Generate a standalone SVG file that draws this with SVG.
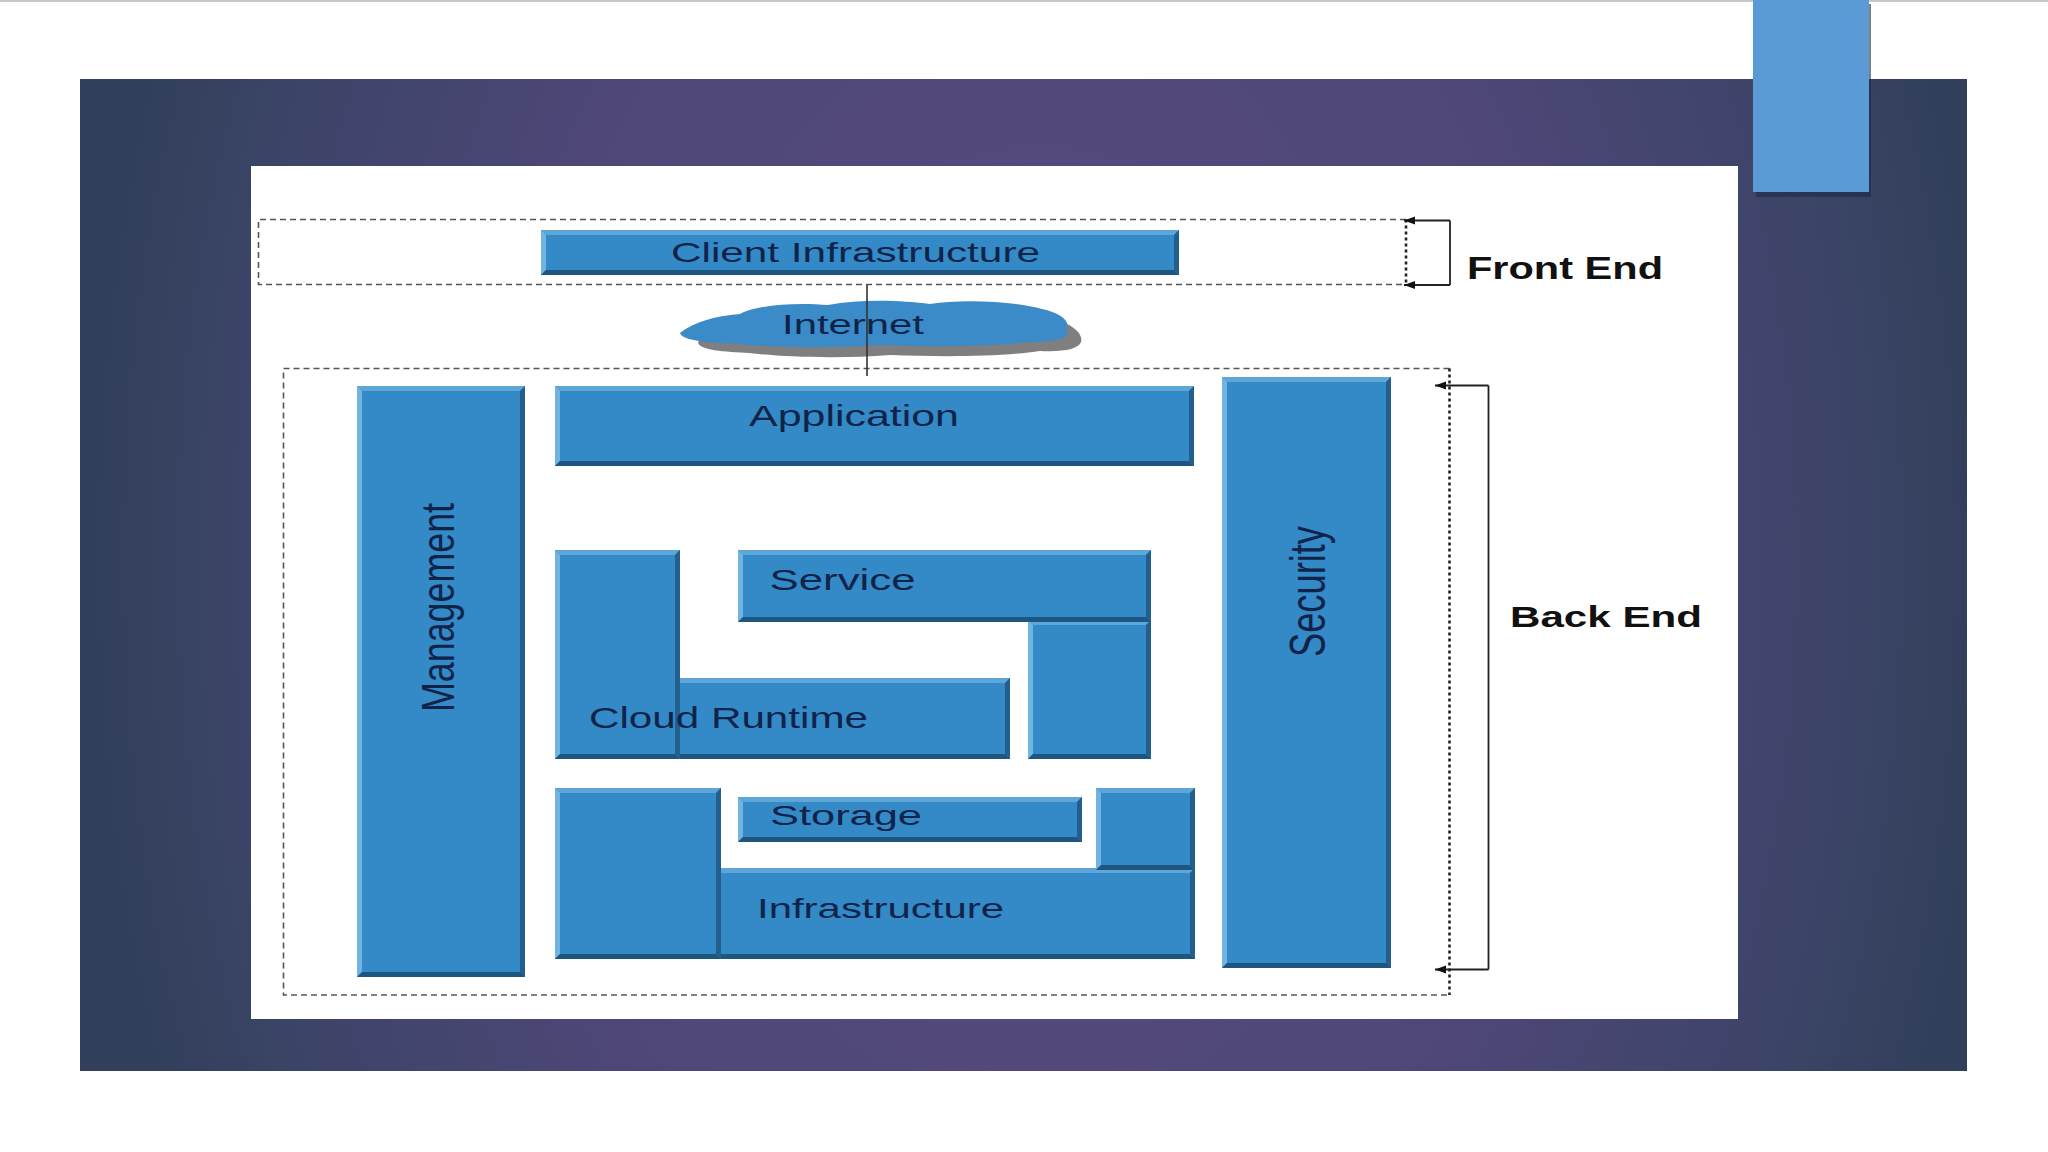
<svg xmlns="http://www.w3.org/2000/svg" width="2048" height="1152" viewBox="0 0 2048 1152">
<defs>
<radialGradient id="bg" gradientUnits="userSpaceOnUse" cx="1040" cy="560" r="960" gradientTransform="translate(1040,560) scale(1,1.5) translate(-1040,-560)">
<stop offset="0" stop-color="#5a4b80"/>
<stop offset="0.55" stop-color="#4e4778"/>
<stop offset="0.85" stop-color="#3b4466"/>
<stop offset="1" stop-color="#313f5a"/>
</radialGradient>
<marker id="arr" markerWidth="12" markerHeight="10" refX="11" refY="5" orient="auto" markerUnits="userSpaceOnUse">
<path d="M0,1 L11,5 L0,9 Z" fill="#111"/>
</marker>
<style>
.bx{fill:#3489c7}
.bt{fill:#5ea6d8}
.bl{fill:#72b4e0}
.br{fill:#235f8c}
.bb{fill:#1e5682}
.lbl{font-family:"Liberation Sans",Arial,sans-serif;fill:#10244a;}
.side{font-family:"Liberation Sans",Arial,sans-serif;font-weight:bold;fill:#111;}
.dash{fill:none;stroke:#555;stroke-width:1.6;stroke-dasharray:6 4}
.dot{fill:none;stroke:#222;stroke-width:2.6;stroke-dasharray:3 3}
.brk{fill:none;stroke:#222;stroke-width:1.8}
</style>
</defs>

<!-- page -->
<rect x="0" y="0" width="2048" height="1152" fill="#ffffff"/>
<rect x="0" y="0" width="2048" height="2" fill="#c8c8c8"/>
<rect x="80" y="79" width="1887" height="992" fill="url(#bg)"/>
<rect x="1756" y="4" width="115" height="193" fill="#1c2b44" opacity="0.6"/>
<rect x="1753" y="0" width="116" height="192" fill="#5b9bd5"/>
<rect x="251" y="166" width="1487" height="853" fill="#ffffff"/>

<!-- frames -->
<g id="front-end-frame">
<path class="dash" d="M1406,219.5 H258.5 V284.5 H1406"/>
<path class="dot" d="M1406,219.5 V284.5"/>
</g>
<g id="back-end-frame">
<path class="dash" d="M1449.5,368.5 H283.5 V995 H1449.5"/>
<path class="dot" d="M1449.5,368.5 V995"/>
</g>

<!-- internet cloud -->
<g id="internet">
<path fill="#7f7f7f" d="M698,342 C710,330 730,324 755,322 C770,313 810,311 840,314 C870,308 910,309 940,313 C970,308 1020,310 1050,318 C1068,322 1084,332 1081,342 C1078,349 1065,352 1040,351 C1000,357 940,357 890,355 C840,359 780,357 750,353 C725,352 698,350 698,342 Z"/>
<path fill="#3a8bc8" d="M680,333 C694,322 714,316 740,314 C756,305 796,302 828,305 C860,299 900,300 930,304 C962,299 1012,301 1042,309 C1060,313 1072,321 1066,331 C1072,338 1056,342 1030,342 C990,347 930,347 880,345 C830,349 770,347 740,344 C712,343 682,341 680,333 Z"/>
</g>

<!-- connectors -->
<g id="connectors">
<line x1="867" y1="285" x2="867" y2="376" stroke="#333" stroke-width="1.6"/>
<line class="brk" x1="1450" y1="285" x2="1450" y2="220.5"/>
<line class="brk" x1="1450" y1="220.5" x2="1404" y2="220.5" marker-end="url(#arr)"/>
<line class="brk" x1="1450" y1="285" x2="1404" y2="285" marker-end="url(#arr)"/>
<line class="brk" x1="1488.5" y1="385.5" x2="1488.5" y2="969.5"/>
<line class="brk" x1="1488.5" y1="385.5" x2="1435" y2="385.5" marker-end="url(#arr)"/>
<line class="brk" x1="1488.5" y1="969.5" x2="1435" y2="969.5" marker-end="url(#arr)"/>
</g>

<text class="lbl" x="782" y="334" font-size="27" textLength="142" lengthAdjust="spacingAndGlyphs">Internet</text>

<!-- client infrastructure -->
<g id="client-infrastructure">
<rect class="bx" x="541" y="230" width="638" height="45"/>
<polygon class="bt" points="541,230 1179,230 1174,235 546,235"/>
<polygon class="bl" points="541,230 546,235 546,270 541,275"/>
<polygon class="br" points="1179,230 1179,275 1174,270 1174,235"/>
<polygon class="bb" points="541,275 1179,275 1174,270 546,270"/>
<text class="lbl" x="671" y="262" font-size="28" textLength="369" lengthAdjust="spacingAndGlyphs">Client Infrastructure</text>
</g>

<!-- management -->
<g id="management">
<rect class="bx" x="357" y="386" width="168" height="591"/>
<polygon class="bt" points="357,386 525,386 520,391 362,391"/>
<polygon class="bl" points="357,386 362,391 362,972 357,977"/>
<polygon class="br" points="525,386 525,977 520,972 520,391"/>
<polygon class="bb" points="357,977 525,977 520,972 362,972"/>
<text class="lbl" transform="translate(453.5,712) rotate(-90) scale(1,1.42)" x="0" y="0" font-size="33" textLength="209" lengthAdjust="spacingAndGlyphs">Management</text>
</g>

<!-- application -->
<g id="application">
<rect class="bx" x="555" y="386" width="639" height="80"/>
<polygon class="bt" points="555,386 1194,386 1189,391 560,391"/>
<polygon class="bl" points="555,386 560,391 560,461 555,466"/>
<polygon class="br" points="1194,386 1194,466 1189,461 1189,391"/>
<polygon class="bb" points="555,466 1194,466 1189,461 560,461"/>
<text class="lbl" x="749" y="426" font-size="29" textLength="210" lengthAdjust="spacingAndGlyphs">Application</text>
</g>

<!-- security -->
<g id="security">
<rect class="bx" x="1222" y="377" width="169" height="591"/>
<polygon class="bt" points="1222,377 1391,377 1386,382 1227,382"/>
<polygon class="bl" points="1222,377 1227,382 1227,963 1222,968"/>
<polygon class="br" points="1391,377 1391,968 1386,963 1386,382"/>
<polygon class="bb" points="1222,968 1391,968 1386,963 1227,963"/>
<text class="lbl" transform="translate(1325,657) rotate(-90) scale(1,1.4)" x="0" y="0" font-size="36" textLength="131" lengthAdjust="spacingAndGlyphs">Security</text>
</g>

<!-- service -->
<g id="service">
<rect class="bx" x="1028" y="620" width="123" height="139"/>
<polygon class="bt" points="1028,620 1151,620 1146,625 1033,625"/>
<polygon class="bl" points="1028,620 1033,625 1033,754 1028,759"/>
<polygon class="br" points="1151,620 1151,759 1146,754 1146,625"/>
<polygon class="bb" points="1028,759 1151,759 1146,754 1033,754"/>
<rect class="bx" x="738" y="550" width="413" height="72"/>
<polygon class="bt" points="738,550 1151,550 1146,555 743,555"/>
<polygon class="bl" points="738,550 743,555 743,617 738,622"/>
<polygon class="br" points="1151,550 1151,622 1146,617 1146,555"/>
<polygon class="bb" points="738,622 1151,622 1146,617 743,617"/>
<text class="lbl" x="769.5" y="590" font-size="29" textLength="146" lengthAdjust="spacingAndGlyphs">Service</text>
</g>

<!-- cloud runtime -->
<g id="cloud-runtime">
<rect class="bx" x="675" y="678" width="335" height="81"/>
<polygon class="bt" points="675,678 1010,678 1005,683 680,683"/>
<polygon class="bl" points="675,678 680,683 680,754 675,759"/>
<polygon class="br" points="1010,678 1010,759 1005,754 1005,683"/>
<polygon class="bb" points="675,759 1010,759 1005,754 680,754"/>
<rect class="bx" x="555" y="550" width="125" height="209"/>
<polygon class="bt" points="555,550 680,550 675,555 560,555"/>
<polygon class="bl" points="555,550 560,555 560,754 555,759"/>
<polygon class="br" points="680,550 680,759 675,754 675,555"/>
<polygon class="bb" points="555,759 680,759 675,754 560,754"/>
<text class="lbl" x="589" y="728" font-size="30" textLength="279" lengthAdjust="spacingAndGlyphs">Cloud Runtime</text>
</g>

<!-- infrastructure -->
<g id="infrastructure">
<rect class="bx" x="716" y="868" width="479" height="91"/>
<polygon class="bt" points="716,868 1195,868 1190,873 721,873"/>
<polygon class="bl" points="716,868 721,873 721,954 716,959"/>
<polygon class="br" points="1195,868 1195,959 1190,954 1190,873"/>
<polygon class="bb" points="716,959 1195,959 1190,954 721,954"/>
<rect class="bx" x="555" y="788" width="166" height="171"/>
<polygon class="bt" points="555,788 721,788 716,793 560,793"/>
<polygon class="bl" points="555,788 560,793 560,954 555,959"/>
<polygon class="br" points="721,788 721,959 716,954 716,793"/>
<polygon class="bb" points="555,959 721,959 716,954 560,954"/>
<rect class="bx" x="1096" y="788" width="99" height="82"/>
<polygon class="bt" points="1096,788 1195,788 1190,793 1101,793"/>
<polygon class="bl" points="1096,788 1101,793 1101,865 1096,870"/>
<polygon class="br" points="1195,788 1195,870 1190,865 1190,793"/>
<polygon class="bb" points="1096,870 1195,870 1190,865 1101,865"/>
<text class="lbl" x="757" y="918" font-size="28" textLength="247" lengthAdjust="spacingAndGlyphs">Infrastructure</text>
</g>

<!-- storage -->
<g id="storage">
<rect class="bx" x="738" y="797" width="344" height="45"/>
<polygon class="bt" points="738,797 1082,797 1077,802 743,802"/>
<polygon class="bl" points="738,797 743,802 743,837 738,842"/>
<polygon class="br" points="1082,797 1082,842 1077,837 1077,802"/>
<polygon class="bb" points="738,842 1082,842 1077,837 743,837"/>
<text class="lbl" x="770" y="825" font-size="28" textLength="152" lengthAdjust="spacingAndGlyphs">Storage</text>
</g>

<!-- side labels -->
<g id="front-end-label">
<text class="side" x="1467" y="279" font-size="31" textLength="196" lengthAdjust="spacingAndGlyphs">Front End</text>
</g>
<g id="back-end-label">
<text class="side" x="1510" y="627" font-size="30" textLength="192" lengthAdjust="spacingAndGlyphs">Back End</text>
</g>
</svg>
